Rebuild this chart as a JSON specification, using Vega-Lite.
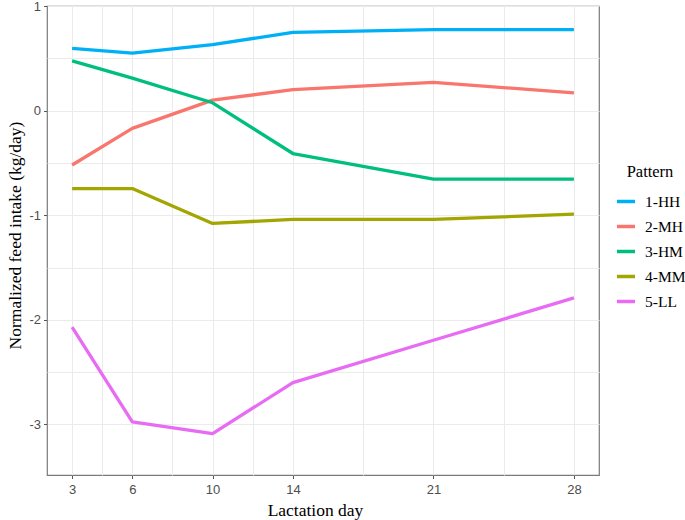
{
  "$schema": "https://vega.github.io/schema/vega-lite/v6.json",
  "width": 552,
  "height": 469,
  "autosize": {"type": "none"},
  "padding": {"left": 47, "top": 6, "right": 86, "bottom": 45},
  "background": "white",
  "config": {
    "view": {"stroke": "#7a7a7a", "strokeWidth": 1.2},
    "axis": {
      "domain": false,
      "grid": true,
      "gridColor": "#ebebeb",
      "gridWidth": 1,
      "tickColor": "#555555",
      "tickSize": 3.5,
      "labelFont": "Liberation Sans",
      "labelFontSize": 13,
      "labelColor": "#4d4d4d",
      "labelPadding": 3,
      "titleFont": "Liberation Serif",
      "titleFontSize": 17.5,
      "titleFontWeight": "normal",
      "titleColor": "#000000"
    },
    "legend": {
      "titleFont": "Liberation Serif",
      "titleFontSize": 16.5,
      "titleFontWeight": "normal",
      "titleColor": "#000000",
      "labelFont": "Liberation Serif",
      "labelFontSize": 15.5,
      "labelColor": "#000000"
    }
  },
  "data": {
    "values": [
      {"day": 3, "value": 0.595, "Pattern": "1-HH"},
      {"day": 6, "value": 0.55, "Pattern": "1-HH"},
      {"day": 10, "value": 0.63, "Pattern": "1-HH"},
      {"day": 14, "value": 0.748, "Pattern": "1-HH"},
      {"day": 21, "value": 0.775, "Pattern": "1-HH"},
      {"day": 28, "value": 0.775, "Pattern": "1-HH"},
      {"day": 3, "value": -0.52, "Pattern": "2-MH"},
      {"day": 6, "value": -0.17, "Pattern": "2-MH"},
      {"day": 10, "value": 0.1, "Pattern": "2-MH"},
      {"day": 14, "value": 0.2, "Pattern": "2-MH"},
      {"day": 21, "value": 0.27, "Pattern": "2-MH"},
      {"day": 28, "value": 0.17, "Pattern": "2-MH"},
      {"day": 3, "value": 0.475, "Pattern": "3-HM"},
      {"day": 6, "value": 0.31, "Pattern": "3-HM"},
      {"day": 10, "value": 0.075, "Pattern": "3-HM"},
      {"day": 14, "value": -0.41, "Pattern": "3-HM"},
      {"day": 21, "value": -0.655, "Pattern": "3-HM"},
      {"day": 28, "value": -0.655, "Pattern": "3-HM"},
      {"day": 3, "value": -0.745, "Pattern": "4-MM"},
      {"day": 6, "value": -0.745, "Pattern": "4-MM"},
      {"day": 10, "value": -1.078, "Pattern": "4-MM"},
      {"day": 14, "value": -1.04, "Pattern": "4-MM"},
      {"day": 21, "value": -1.04, "Pattern": "4-MM"},
      {"day": 28, "value": -0.99, "Pattern": "4-MM"},
      {"day": 3, "value": -2.07, "Pattern": "5-LL"},
      {"day": 6, "value": -2.975, "Pattern": "5-LL"},
      {"day": 10, "value": -3.088, "Pattern": "5-LL"},
      {"day": 14, "value": -2.6, "Pattern": "5-LL"},
      {"day": 21, "value": -2.195, "Pattern": "5-LL"},
      {"day": 28, "value": -1.79, "Pattern": "5-LL"}
    ]
  },
  "mark": {"type": "line", "strokeWidth": 3.3, "strokeCap": "butt", "strokeJoin": "round"},
  "encoding": {
    "x": {
      "field": "day",
      "type": "quantitative",
      "scale": {"domain": [1.75, 29.25], "nice": false, "zero": false},
      "axis": {
        "title": "Lactation day",
        "titlePadding": 5,
        "titleX": 268,
        "labelPadding": 5,
        "values": [3, 4.5, 6, 8, 10, 12, 14, 17.5, 21, 24.5, 28],
        "labelExpr": "indexof([3, 6, 10, 14, 21, 28], datum.value) >= 0 ? format(datum.value, 'd') : ''",
        "tickOpacity": {"condition": {"test": "indexof([3, 6, 10, 14, 21, 28], datum.value) >= 0", "value": 1}, "value": 0},
        "labelFlush": false,
        "labelOverlap": false
      }
    },
    "y": {
      "field": "value",
      "type": "quantitative",
      "scale": {"domain": [-3.483, 1.0], "nice": false, "zero": false},
      "axis": {
        "title": "Normalized feed intake (kg/day)",
        "titlePadding": 4,
        "titleY": 229,
        "values": [-3, -2.5, -2, -1.5, -1, -0.5, 0, 0.5, 1],
        "labelExpr": "indexof([-3, -2, -1, 0, 1], datum.value) >= 0 ? (datum.value < 0 ? '-' + format(-datum.value, 'd') : format(datum.value, 'd')) : ''",
        "tickOpacity": {"condition": {"test": "indexof([-3, -2, -1, 0, 1], datum.value) >= 0", "value": 1}, "value": 0},
        "labelFlush": false,
        "labelOverlap": false
      }
    },
    "color": {
      "field": "Pattern",
      "type": "nominal",
      "scale": {
        "domain": ["1-HH", "2-MH", "3-HM", "4-MM", "5-LL"],
        "range": ["#00B0F6", "#F8766D", "#00BF7D", "#A3A500", "#E76BF3"]
      },
      "legend": {
        "orient": "none",
        "legendX": 568,
        "legendY": 158,
        "symbolType": "stroke",
        "symbolSize": 324,
        "symbolStrokeWidth": 3.5,
        "rowPadding": 5,
        "labelOffset": 8,
        "titlePadding": 10,
        "titleAnchor": "middle"
      }
    }
  }
}
